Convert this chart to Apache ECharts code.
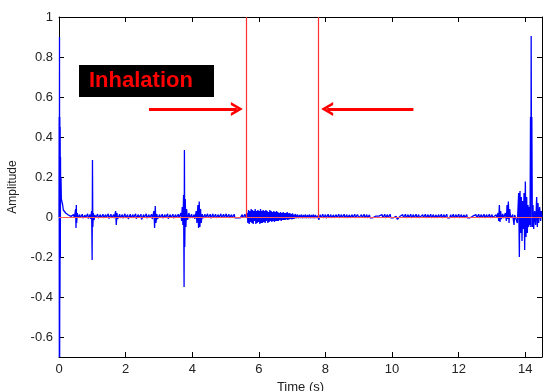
<!DOCTYPE html>
<html>
<head>
<meta charset="utf-8">
<script src="https://cdn.jsdelivr.net/npm/echarts@6/dist/echarts.min.js"></script>
<style>
html,body{margin:0;padding:0;background:#fff;}
#chart{width:543px;height:391px;}
</style>
</head>
<body>
<div id="chart"></div>
<script>
// ---- axis ticks ----
const xTickValues = [0, 2, 4, 6, 8, 10, 12, 14];
const yTickValues = [-0.6, -0.4, -0.2, 0, 0.2, 0.4, 0.6, 0.8, 1];

// ---- signal, [time (s), amplitude] pairs ----
const startSeg = [
  [0.000,0.00],[0.005,0.50],[0.010,-0.70],[0.015,0.90],[0.020,-0.70],[0.025,0.50],[0.030,-0.40],
  [0.035,0.45],[0.040,-0.20],[0.045,0.30],[0.050,0.10],[0.060,0.20],[0.070,0.09],[0.090,0.085],
  [0.110,0.06],[0.130,0.035],[0.160,0.025],[0.200,0.020],[0.240,0.015],[0.280,0.010],
  [0.320,0.006],[0.360,0.003],[0.400,-0.003]
];
const noiseSeg1 = [
  [0.44,0.012],[0.46,-0.004],[0.50,0.04],[0.51,-0.055],[0.52,0.06],[0.53,-0.03],[0.55,0.02],
  [0.57,-0.004],[0.62,0.012],[0.64,-0.004],[0.70,0.014],[0.72,-0.006],[0.78,0.01],[0.80,-0.004],
  [0.86,0.016],[0.88,-0.008],[0.93,0.012],[0.95,-0.01],[0.98,0.03],[0.995,-0.215],[1.005,0.285],
  [1.015,-0.05],[1.03,0.02],[1.05,-0.015],[1.08,0.01],[1.10,-0.004],[1.16,0.015],[1.18,-0.006],
  [1.24,0.012],[1.26,-0.004],[1.32,0.014],[1.34,-0.004],[1.40,0.012],[1.42,-0.004],[1.48,0.016],
  [1.50,-0.008],[1.56,0.014],[1.58,-0.004]
];
const noiseSeg2 = [
  [1.64,0.012],[1.66,-0.006],[1.70,0.03],[1.72,-0.04],[1.74,0.02],[1.76,-0.01],[1.82,0.014],
  [1.84,-0.004],[1.90,0.012],[1.92,-0.006],[1.98,0.016],[2.00,-0.004],[2.06,0.012],[2.08,-0.01],
  [2.14,0.014],[2.16,-0.004],[2.22,0.012],[2.24,-0.004],[2.30,0.016],[2.32,-0.008],[2.38,0.012],
  [2.40,-0.004],[2.46,0.014],[2.48,-0.012],[2.54,0.012],[2.56,-0.004],[2.62,0.016],[2.64,-0.006],
  [2.70,0.012],[2.72,-0.004],[2.78,0.014],[2.80,-0.01],[2.85,0.03],[2.87,-0.055],[2.89,0.055],
  [2.91,-0.03],[2.94,0.015],[2.96,-0.01],[3.02,0.012],[3.04,-0.004],[3.10,0.014],[3.12,-0.006],
  [3.18,0.012],[3.20,-0.004],[3.26,0.016],[3.28,-0.008],[3.34,0.012],[3.36,-0.004],[3.42,0.014],
  [3.44,-0.006],[3.50,0.012],[3.52,-0.004],[3.58,0.014],[3.60,-0.004]
];
const spikeSeg = [
  [3.66,0.02],[3.68,-0.02],[3.70,0.05],[3.72,-0.04],[3.74,0.11],[3.755,-0.35],[3.765,0.335],
  [3.775,-0.15],[3.79,0.09],[3.81,-0.05],[3.83,0.04],[3.86,-0.015],[3.90,0.02],[3.93,-0.005],
  [3.98,0.014],[4.00,-0.004],[4.06,0.012],[4.08,-0.01],[4.12,0.03],[4.14,-0.03],[4.17,0.06],
  [4.19,-0.055],[4.21,0.077],[4.23,-0.05],[4.25,0.04],[4.27,-0.03],[4.30,0.015],[4.32,-0.006]
];
const combSeg1 = [
  [4.38,0.014],[4.40,-0.004],[4.46,0.016],[4.48,-0.004],[4.54,0.014],[4.56,-0.006],[4.62,0.016],
  [4.64,-0.004],[4.70,0.014],[4.72,-0.004],[4.78,0.012],[4.80,-0.004],[4.86,0.016],[4.88,-0.004],
  [4.94,0.014],[4.96,-0.004],[5.02,0.016],[5.04,-0.004],[5.10,0.014],[5.12,-0.004],[5.18,0.012],
  [5.20,-0.004],[5.26,0.014],[5.28,-0.004],[5.34,0.006],[5.36,-0.004],[5.42,0.006],[5.44,-0.004],
  [5.50,0.012],[5.52,-0.004],[5.58,0.014],[5.60,-0.004]
];
const inhaleSeg = [
  [5.63,-0.004],[5.65,0.02],[5.67,-0.03],[5.69,0.035],[5.71,-0.035],[5.73,0.03],[5.75,-0.025],
  [5.77,0.04],[5.79,-0.03],[5.81,0.035],[5.83,-0.035],[5.85,0.03],[5.87,-0.02],[5.89,0.04],
  [5.91,-0.035],[5.93,0.03],[5.95,-0.03],[5.97,0.035],[5.99,-0.025],[6.01,0.03],[6.03,-0.035],
  [6.05,0.04],[6.07,-0.03],[6.09,0.03],[6.11,-0.03],[6.13,0.035],[6.15,-0.025],[6.17,0.03],
  [6.19,-0.03],[6.21,0.035],[6.23,-0.02],[6.25,0.03],[6.27,-0.03],[6.29,0.025],[6.31,-0.025],
  [6.33,0.035],[6.35,-0.02],[6.37,0.03],[6.39,-0.025],[6.41,0.025],[6.43,-0.02],[6.45,0.03],
  [6.47,-0.025],[6.49,0.025],[6.51,-0.02],[6.53,0.03],[6.55,-0.02],[6.57,0.025],[6.59,-0.02],
  [6.61,0.02],[6.63,-0.015],[6.65,0.025],[6.67,-0.02],[6.69,0.02],[6.71,-0.015],[6.73,0.025],
  [6.75,-0.015],[6.77,0.02],[6.79,-0.015],[6.81,0.02],[6.83,-0.012],[6.85,0.025],[6.87,-0.015],
  [6.89,0.018],[6.91,-0.012],[6.93,0.02],[6.95,-0.01],[6.97,0.015],[6.99,-0.012],[7.01,0.018],
  [7.03,-0.01],[7.05,0.012],[7.07,-0.008],[7.10,0.015],[7.12,-0.006],[7.16,0.012],[7.18,-0.006],
  [7.22,0.01],[7.24,-0.005],[7.28,0.012],[7.30,-0.006],[7.34,0.01],[7.36,-0.005],[7.40,0.012],
  [7.42,-0.006],[7.46,0.01],[7.48,-0.005],[7.52,0.012],[7.54,-0.006],[7.58,0.01],[7.60,-0.005],
  [7.64,0.012],[7.66,-0.006],[7.70,0.01],[7.72,-0.005],[7.76,0.006],[7.78,-0.004],[7.80,-0.014],
  [7.82,-0.004]
];
const combSeg2 = [
  [7.84,0.012],[7.86,-0.004],[7.92,0.014],[7.94,-0.004],[8.00,0.012],[8.02,-0.006],[8.08,0.014],
  [8.10,-0.004],[8.16,0.012],[8.18,-0.004],[8.24,0.010],[8.26,-0.004],[8.32,0.012],[8.34,-0.004],
  [8.40,0.014],[8.42,-0.004],[8.48,0.012],[8.50,-0.004],[8.56,0.014],[8.58,-0.004],[8.64,0.012],
  [8.66,-0.004],[8.72,0.010],[8.74,-0.004],[8.80,0.012],[8.82,-0.004],[8.88,0.014],[8.90,-0.004],
  [8.96,0.012],[9.00,-0.004],[9.02,-0.014],[9.04,-0.004],[9.08,0.012],[9.10,-0.004],[9.16,0.014],
  [9.18,-0.004],[9.24,0.012],[9.26,-0.004],[9.32,0.010],[9.34,-0.004],[9.40,0.004],[9.42,-0.004],
  [9.50,0.004],[9.52,-0.004],[9.60,0.004],[9.62,-0.004],[9.70,0.012],[9.72,-0.004],[9.78,0.014],
  [9.80,-0.004],[9.86,0.012],[9.88,-0.004],[9.94,0.014],[9.96,-0.004],[10.02,0.004],[10.04,-0.004],
  [10.12,0.004],[10.14,-0.004],[10.16,-0.012],[10.18,-0.004],[10.24,0.004],[10.26,-0.004],
  [10.32,0.012],[10.34,-0.004],[10.40,0.014],[10.42,-0.004],[10.48,0.012],[10.50,-0.004],
  [10.56,0.014],[10.58,-0.004],[10.64,0.012],[10.66,-0.004],[10.72,0.014],[10.74,-0.004],
  [10.80,0.012],[10.82,-0.004],[10.86,-0.012],[10.88,-0.004],[10.92,0.012],[10.94,-0.004],
  [11.00,0.014],[11.02,-0.004],[11.08,0.012],[11.10,-0.004],[11.16,0.014],[11.18,-0.004],
  [11.24,0.012],[11.26,-0.004],[11.32,0.010],[11.34,-0.004],[11.40,0.012],[11.42,-0.004],
  [11.48,0.014],[11.50,-0.004],[11.56,0.012],[11.58,-0.004],[11.64,0.014],[11.66,-0.004],
  [11.71,-0.012],[11.73,-0.004],[11.76,0.012],[11.78,-0.004],[11.84,0.014],[11.86,-0.004],
  [11.92,0.012],[11.94,-0.004],[12.00,0.014],[12.02,-0.004],[12.08,0.012],[12.10,-0.004],
  [12.16,0.010],[12.18,-0.004],[12.24,0.012],[12.26,-0.004],[12.32,0.004],[12.34,-0.004],
  [12.42,0.004],[12.44,-0.004],[12.52,0.012],[12.54,-0.004],[12.60,0.014],[12.62,-0.004],
  [12.68,0.012],[12.70,-0.004],[12.76,0.014],[12.78,-0.004],[12.84,0.012],[12.86,-0.004],
  [12.92,0.014],[12.94,-0.004],[13.00,0.012],[13.02,-0.004],[13.06,-0.014],[13.08,-0.004],
  [13.12,0.012],[13.14,-0.004]
];
const endSeg = [
  [13.18,0.02],[13.20,-0.02],[13.22,0.06],[13.24,-0.025],[13.26,0.03],[13.28,-0.01],[13.32,0.015],
  [13.35,-0.005],[13.40,0.02],[13.43,-0.02],[13.45,0.06],[13.47,-0.01],[13.49,0.077],[13.51,-0.03],
  [13.53,0.04],[13.56,-0.005],[13.62,0.012],[13.66,-0.04],[13.68,0.01],[13.72,0.02],[13.76,-0.03],
  [13.80,0.12],[13.82,-0.2],[13.84,0.13],[13.86,-0.08],[13.88,0.1],[13.90,-0.12],[13.92,0.08],
  [13.94,-0.06],[13.96,0.12],[13.98,-0.165],[14.00,0.177],[14.02,-0.1],[14.04,0.1],[14.06,-0.08],
  [14.08,0.06],[14.10,-0.05],[14.12,0.05],[14.14,-0.04],[14.155,0.5],[14.165,-0.05],[14.175,0.905],
  [14.185,0.2],[14.195,0.5],[14.21,-0.05],[14.23,0.06],[14.25,-0.06],[14.28,0.03],[14.31,-0.04],
  [14.34,0.1],[14.36,-0.05],[14.38,0.07],[14.40,-0.03],[14.43,0.05],[14.46,-0.02],[14.48,0.03],
  [14.50,0.0]
];

// ---- annotations (data coordinates) ----
const markerTimes = [5.63, 7.77];
const arrowRight = [[2.70, 0.54], [5.34, 0.54]];
const arrowLeft = [[10.64, 0.54], [8.05, 0.54]];
const labelText = 'Inhalation';

const signal = [].concat(startSeg, noiseSeg1, noiseSeg2, spikeSeg, combSeg1, inhaleSeg, combSeg2, endSeg);

const FONT = 'Liberation Sans, Arial, sans-serif';
const chevron = 'path://M0,12 L7,0 L14,12 L11,12 L7,5 L3,12 Z';

const chart = echarts.init(document.getElementById('chart'), null, {renderer: 'canvas'});
chart.setOption({
  animation: false,
  backgroundColor: '#ffffff',
  grid: {left: 59, right: 1, top: 17, bottom: 34, containLabel: false, outerBoundsMode: 'none'},
  xAxis: [{
    type: 'value', min: 0, max: 14.5, position: 'bottom',
    name: 'Time (s)', nameLocation: 'middle', nameGap: 21,
    nameTextStyle: {fontFamily: FONT, fontSize: 13, color: '#222'},
    axisLine: {show: true, onZero: false, lineStyle: {color: '#000', width: 1}},
    axisTick: {show: true, inside: true, length: 5, customValues: xTickValues, lineStyle: {color: '#000'}},
    axisLabel: {customValues: xTickValues, fontFamily: FONT, fontSize: 13, color: '#222', margin: 6},
    splitLine: {show: false}
  }, {
    type: 'value', min: 0, max: 14.5, position: 'top',
    axisLine: {show: true, onZero: false, lineStyle: {color: '#000', width: 1}},
    axisTick: {show: true, inside: true, length: 5, customValues: xTickValues, lineStyle: {color: '#000'}},
    axisLabel: {show: false},
    splitLine: {show: false}
  }],
  yAxis: [{
    type: 'value', min: -0.7, max: 1, position: 'left',
    name: 'Amplitude', nameLocation: 'middle', nameGap: 40,
    nameTextStyle: {fontFamily: FONT, fontSize: 12, color: '#222'},
    axisLine: {show: true, onZero: false, lineStyle: {color: '#000', width: 1}},
    axisTick: {show: true, inside: true, length: 5, customValues: yTickValues, lineStyle: {color: '#000'}},
    axisLabel: {customValues: yTickValues, fontFamily: FONT, fontSize: 13, color: '#222', margin: 6,
      formatter: v => String(Math.round(v * 10) / 10)},
    splitLine: {show: false}
  }, {
    type: 'value', min: -0.7, max: 1, position: 'right',
    axisLine: {show: true, onZero: false, lineStyle: {color: '#000', width: 1}},
    axisTick: {show: true, inside: true, length: 5, customValues: yTickValues, lineStyle: {color: '#000'}},
    axisLabel: {show: false},
    splitLine: {show: false}
  }],
  series: [{
    type: 'line', data: signal, showSymbol: false, symbol: 'none', sampling: null,
    lineStyle: {color: '#0000ff', width: 1.3}, z: 2, silent: true, clip: true
  }, {
    type: 'line', data: [], z: 3, silent: true,
    markLine: {
      silent: true, animation: false, symbol: 'none',
      label: {show: false},
      data: [
        [{coord: [0, 0], lineStyle: {color: '#ff5a5a', width: 1.2, type: 'solid'}}, {coord: [14.5, 0]}],
        [{coord: [markerTimes[0], 0], lineStyle: {color: '#ff3030', width: 1.2, type: 'solid'}}, {coord: [markerTimes[0], 1]}],
        [{coord: [markerTimes[1], 0], lineStyle: {color: '#ff3030', width: 1.2, type: 'solid'}}, {coord: [markerTimes[1], 1]}]
      ]
    }
  }, {
    type: 'line', data: [], z: 4, silent: true,
    markLine: {
      silent: true, animation: false,
      symbol: ['none', chevron], symbolSize: [14, 12],
      label: {show: false},
      lineStyle: {color: '#ff0000', width: 3, type: 'solid'},
      itemStyle: {color: '#ff0000'},
      data: [
        [{coord: arrowRight[0]}, {coord: arrowRight[1]}],
        [{coord: arrowLeft[0]}, {coord: arrowLeft[1]}]
      ]
    }
  }],
  graphic: [{
    type: 'group', left: 79, top: 65,
    children: [
      {type: 'rect', shape: {x: 0, y: 0, width: 135, height: 32}, style: {fill: '#000'}},
      {type: 'text', x: 10, y: 16, style: {text: labelText, fill: '#ff0000', fontFamily: FONT,
        fontSize: 22, fontWeight: 'bold', verticalAlign: 'middle', align: 'left'}}
    ]
  }]
});
</script>
</body>
</html>
